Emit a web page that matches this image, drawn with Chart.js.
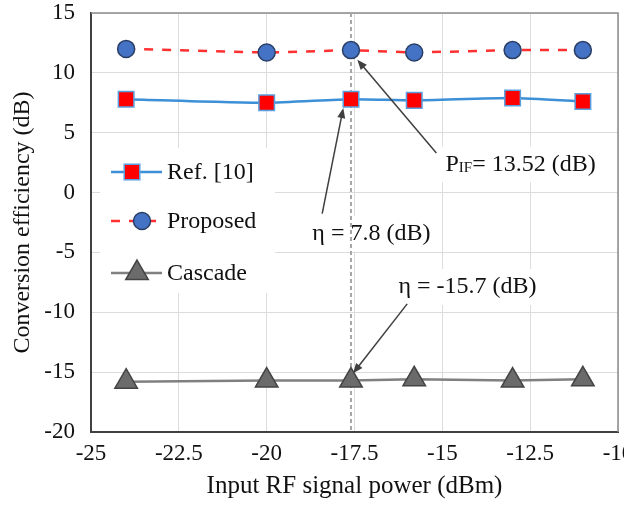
<!DOCTYPE html>
<html>
<head>
<meta charset="utf-8">
<script src="https://cdn.jsdelivr.net/npm/chart.js@4"></script>
<style>
  html, body { margin: 0; padding: 0; background: #fff; }
  #wrap { width: 624px; height: 505px; }
</style>
</head>
<body>
<div id="wrap"><canvas id="myChart" width="624" height="505"></canvas></div>
<script>
// Conversion efficiency vs input RF power

const inputPower = [-24, -20, -17.6, -15.8, -13, -11];     // dBm
const refTen     = [7.8, 7.5, 7.8, 7.7, 7.9, 7.6];         // Ref. [10]
const proposed   = [12.0, 11.7, 11.9, 11.7, 11.9, 11.9];
const cascade    = [-15.8, -15.7, -15.7, -15.6, -15.7, -15.6];

const seriesNames = ['Ref. [10]', 'Proposed', 'Cascade'];
const markedPower = -17.6;   // dashed guide line

// annotation texts: text position, arrow tail and arrow head (data units)
const notes = [
    { parts: [['P', 0], ['IF', 1], ['= 13.52 (dB)', 0]], at: [-14.91, 2.44], tail: [-15.17, 3.3], head: [-17.42, 11.1] },
    { parts: [['\u03b7 = 7.8 (dB)', 0]],                at: [-18.70, -3.36], tail: [-18.42, -1.76], head: [-17.82, 7.06] },
    { parts: [['\u03b7 = -15.7 (dB)', 0]],              at: [-16.25, -7.8], tail: [-16.0, -9.3], head: [-17.54, -15.1] }
];

const serif = '"Liberation Serif", "Times New Roman", serif';
const noteFont = 24;

function toPoints(ys) {
    return inputPower.map((x, i) => ({ x: x, y: ys[i] }));
}

function arrow(ctx, x1, y1, x2, y2) {
    const ang = Math.atan2(y2 - y1, x2 - x1);
    const len = 10, wid = 4;
    ctx.beginPath();
    ctx.moveTo(x1, y1);
    ctx.lineTo(x2 - Math.cos(ang) * len * 0.8, y2 - Math.sin(ang) * len * 0.8);
    ctx.stroke();
    ctx.beginPath();
    ctx.moveTo(x2, y2);
    ctx.lineTo(x2 - Math.cos(ang) * len - Math.sin(ang) * wid, y2 - Math.sin(ang) * len + Math.cos(ang) * wid);
    ctx.lineTo(x2 - Math.cos(ang) * len + Math.sin(ang) * wid, y2 - Math.sin(ang) * len - Math.cos(ang) * wid);
    ctx.closePath();
    ctx.fill();
}

function partFont(p) {
    return (p[1] ? Math.round(noteFont * 0.62) : noteFont) + 'px ' + serif;
}

// frame, guide line, legend and arrows
const extras = {
    id: 'extras',
    beforeDatasetsDraw(chart) {
        const ctx = chart.ctx, a = chart.chartArea, xs = chart.scales.x;
        ctx.save();
        // light frame top/right
        ctx.strokeStyle = '#8c8c8c';
        ctx.lineWidth = 1.5;
        ctx.beginPath();
        ctx.moveTo(a.left, a.top);
        ctx.lineTo(a.right, a.top);
        ctx.lineTo(a.right, a.bottom);
        ctx.stroke();
        // legend background
        ctx.fillStyle = '#fff';
        ctx.fillRect(a.left + 9, 148, 175, 145);
        // note backgrounds
        notes.forEach(n => {
            const px = xs.getPixelForValue(n.at[0]);
            const py = chart.scales.y.getPixelForValue(n.at[1]);
            let w = 0;
            n.parts.forEach(p => {
                ctx.font = partFont(p);
                w += ctx.measureText(p[0]).width;
            });
            ctx.fillRect(px - 5, py - 17, w + 10, 36);
        });
        // dashed guide line
        const gx = xs.getPixelForValue(markedPower);
        ctx.strokeStyle = '#a6a6a6';
        ctx.lineWidth = 2;
        ctx.setLineDash([4, 3]);
        ctx.beginPath();
        ctx.moveTo(gx, a.top);
        ctx.lineTo(gx, a.bottom);
        ctx.stroke();
        ctx.restore();
    },
    afterDatasetsDraw(chart) {
        const ctx = chart.ctx;
        const xs = chart.scales.x, ys = chart.scales.y;
        ctx.save();
        // legend
        const rows = [172, 221, 273];
        const markX = [132, 142, 137];
        chart.data.datasets.forEach((ds, i) => {
            const y = rows[i];
            ctx.strokeStyle = ds.borderColor;
            ctx.lineWidth = ds.borderWidth;
            ctx.setLineDash(ds.borderDash || []);
            ctx.beginPath();
            ctx.moveTo(111, y);
            ctx.lineTo(162, y);
            ctx.stroke();
            ctx.setLineDash([]);
            ctx.fillStyle = ds.pointBackgroundColor;
            ctx.strokeStyle = ds.pointBorderColor;
            ctx.lineWidth = ds.pointBorderWidth;
            Chart.helpers.drawPoint(ctx, {
                pointStyle: ds.pointStyle, radius: ds.pointRadius, rotation: 0, borderWidth: ds.pointBorderWidth
            }, markX[i], y);
            ctx.fillStyle = '#111';
            ctx.font = noteFont + 'px ' + serif;
            ctx.textBaseline = 'middle';
            ctx.fillText(seriesNames[i], 167, y + 1);
        });
        // notes and arrows
        ctx.strokeStyle = '#3f3f3f';
        ctx.fillStyle = '#3f3f3f';
        ctx.lineWidth = 1.5;
        notes.forEach(n => {
            arrow(ctx, xs.getPixelForValue(n.tail[0]), ys.getPixelForValue(n.tail[1]),
                       xs.getPixelForValue(n.head[0]), ys.getPixelForValue(n.head[1]));
        });
        ctx.fillStyle = '#111';
        ctx.textBaseline = 'middle';
        notes.forEach(n => {
            let px = xs.getPixelForValue(n.at[0]);
            const py = ys.getPixelForValue(n.at[1]);
            n.parts.forEach(p => {
                ctx.font = partFont(p);
                ctx.fillText(p[0], px, py + (p[1] ? 5 : 1));
                px += ctx.measureText(p[0]).width;
            });
        });
        ctx.restore();
    }
};

function noPadding(scale) {
    scale.paddingLeft = 0;
    scale.paddingRight = 0;
    scale.paddingTop = 0;
    scale.paddingBottom = 0;
}

const ctx = document.getElementById('myChart');
const myChart = new Chart(ctx, {
    type: 'line',
    data: {
        datasets: [{
            label: seriesNames[0],
            data: toPoints(refTen),
            borderColor: '#3d8fd6',
            borderWidth: 2.5,
            pointStyle: 'rect',
            pointRadius: 11,
            pointBackgroundColor: '#ff0000',
            pointBorderColor: '#5aa0e0',
            pointBorderWidth: 1.5,
            tension: 0.2
        },
        {
            label: seriesNames[1],
            data: toPoints(proposed),
            borderColor: '#ff3030',
            borderWidth: 2.5,
            borderDash: [9, 9],
            pointStyle: 'circle',
            pointRadius: 8.5,
            pointBackgroundColor: '#4472c4',
            pointBorderColor: '#2a3f66',
            pointBorderWidth: 1.5
        },
        {
            label: seriesNames[2],
            data: toPoints(cascade),
            borderColor: '#808080',
            borderWidth: 2.5,
            pointStyle: 'triangle',
            pointRadius: 13,
            pointBackgroundColor: '#6b6b6b',
            pointBorderColor: '#444444',
            pointBorderWidth: 1.5
        }]
    },
    options: {
        responsive: false,
        animation: false,
        layout: { autoPadding: false, padding: { top: 13, right: 6, left: 0, bottom: 0 } },
        scales: {
            x: {
                type: 'linear',
                min: -25,
                max: -10,
                ticks: { stepSize: 2.5, color: '#111', font: { family: serif, size: 23 }, padding: 8 },
                grid: { color: '#dcdcdc', lineWidth: 1, drawTicks: false },
                border: { color: '#404040', width: 2 },
                title: { display: true, text: 'Input RF signal power (dBm)', color: '#111',
                         font: { family: serif, size: 25 }, padding: { top: 9 } },
                afterFit(scale) { noPadding(scale); scale.height = 73; }
            },
            y: {
                min: -20,
                max: 15,
                ticks: { stepSize: 5, color: '#111', font: { family: serif, size: 23 }, padding: 16 },
                grid: { color: '#dcdcdc', lineWidth: 1, drawTicks: false },
                border: { color: '#404040', width: 2 },
                title: { display: true, text: 'Conversion efficiency (dB)', color: '#111',
                         font: { family: serif, size: 24 }, padding: { top: 8, bottom: 0 } },
                afterFit(scale) { noPadding(scale); scale.width = 91; }
            }
        },
        plugins: {
            legend: { display: false },
            tooltip: { enabled: false }
        }
    },
    plugins: [extras]
});
</script>
</body>
</html>
